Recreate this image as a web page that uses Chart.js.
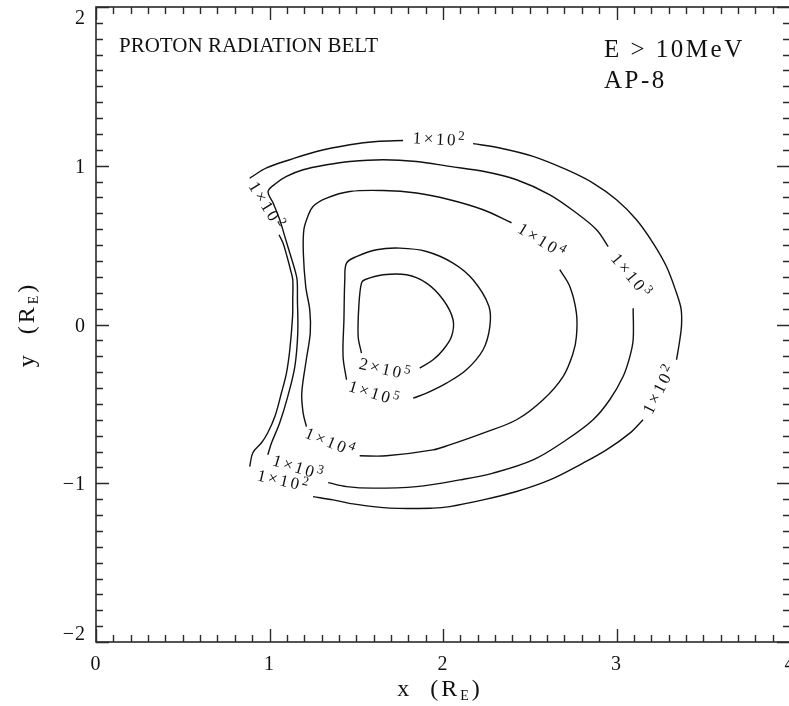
<!DOCTYPE html>
<html>
<head>
<meta charset="utf-8">
<title>Proton radiation belt</title>
<script src="https://cdn.jsdelivr.net/npm/chart.js@4.4.0/dist/chart.umd.min.js"></script>
<style>
  html, body { margin: 0; padding: 0; background: #fff; overflow: hidden; }
  canvas { display: block; }
</style>
</head>
<body>
<canvas id="beltChart" width="800" height="706"></canvas>
<script>
// Flux contour levels (protons/cm^2/s, E > 10 MeV)
const levelMantissa = [1, 1, 1, 1, 2];
const levelExponent = [2, 3, 4, 5, 5];

// Contour traces in Earth radii, one array of segments per level.
// Segments break where the level labels sit.
const level1e2 = [
  [[0.886, -0.895], [0.904, -0.808], [0.954, -0.745], [0.990, -0.682], [1.031, -0.580], [1.069, -0.430],
   [1.098, -0.304], [1.117, -0.159], [1.133, 0.050], [1.134, 0.156], [1.134, 0.282], [1.121, 0.345],
   [1.101, 0.428], [1.078, 0.513], [1.055, 0.565]],
  [[0.886, 0.922], [0.983, 0.986], [1.117, 1.038], [1.271, 1.090], [1.463, 1.132], [1.617, 1.153], [1.770, 1.159]],
  [[2.173, 1.139], [2.327, 1.112], [2.519, 1.059], [2.712, 0.975], [2.865, 0.891], [3.000, 0.786], [3.115, 0.660],
   [3.211, 0.513], [3.288, 0.365], [3.346, 0.198], [3.372, 0.100], [3.375, 0.000], [3.365, -0.096], [3.346, -0.222]],
  [[3.153, -0.600], [3.077, -0.684], [2.942, -0.790], [2.807, -0.873], [2.616, -0.979], [2.424, -1.052],
   [2.231, -1.105], [2.039, -1.147], [1.943, -1.157], [1.693, -1.157], [1.482, -1.130], [1.367, -1.105], [1.251, -1.084]]
];
const level1e3 = [
  [[0.990, -0.821], [1.012, -0.745], [1.059, -0.619], [1.105, -0.454], [1.146, -0.265], [1.163, -0.052],
   [1.161, 0.156], [1.159, 0.282], [1.146, 0.345], [1.117, 0.450], [1.088, 0.555], [1.059, 0.660],
   [1.021, 0.765], [0.992, 0.838], [1.040, 0.891], [1.098, 0.933], [1.194, 0.975], [1.329, 1.006],
   [1.463, 1.027], [1.655, 1.038], [1.847, 1.027], [2.039, 0.996], [2.231, 0.965], [2.424, 0.912],
   [2.616, 0.817], [2.769, 0.702], [2.885, 0.597], [2.952, 0.491]],
  [[3.096, 0.103], [3.096, -0.096], [3.077, -0.202], [3.038, -0.328], [2.961, -0.474], [2.865, -0.600],
   [2.712, -0.726], [2.519, -0.853], [2.289, -0.936], [2.097, -0.979], [1.847, -1.021], [1.597, -1.031],
   [1.444, -1.021], [1.338, -0.996]]
];
const level1e4 = [
  [[1.213, -0.643], [1.194, -0.558], [1.186, -0.432], [1.212, -0.222], [1.235, -0.052], [1.232, 0.092],
   [1.209, 0.237], [1.195, 0.450], [1.198, 0.597], [1.221, 0.681], [1.251, 0.744], [1.329, 0.796],
   [1.463, 0.838], [1.655, 0.844], [1.847, 0.828], [2.039, 0.786], [2.231, 0.723], [2.395, 0.641]],
  [[2.673, 0.345], [2.731, 0.239], [2.769, 0.072], [2.769, -0.076], [2.750, -0.180], [2.692, -0.328],
   [2.577, -0.474], [2.424, -0.600], [2.231, -0.684], [2.039, -0.758], [1.943, -0.790], [1.674, -0.827], [1.520, -0.827]]
];
const level1e5 = [
  [[1.828, -0.464], [1.905, -0.432], [2.020, -0.369], [2.135, -0.285], [2.231, -0.159], [2.270, -0.013],
   [2.264, 0.117], [2.173, 0.282], [2.058, 0.387], [1.905, 0.460], [1.751, 0.481], [1.617, 0.471],
   [1.501, 0.428], [1.444, 0.387], [1.434, 0.282], [1.429, 0.030], [1.424, -0.202], [1.444, -0.348]]
];
const level2e5 = [
  [[1.866, -0.275], [1.943, -0.222], [2.001, -0.159], [2.049, -0.076], [2.058, 0.030], [2.001, 0.156],
   [1.905, 0.261], [1.790, 0.313], [1.655, 0.313], [1.549, 0.282], [1.530, 0.261], [1.516, 0.135],
   [1.511, -0.076], [1.530, -0.180]]
];
const contourLevels = [level1e2, level1e3, level1e4, level1e5, level2e5];

// Level labels: which level, where (R_E) and the text angle in degrees
const labelLevel = [0, 0, 0, 0, 1, 1, 2, 2, 3, 4];
const labelX = [1.982, 0.983, 3.250, 1.082, 3.086, 1.169, 2.572, 1.353, 1.607, 1.670];
const labelY = [1.164, 0.744, -0.405, -0.988, 0.302, -0.905, 0.523, -0.745, -0.437, -0.285];
const labelAngle = [3, 58, -63, 13, 50, 17, 31, 22, 17, 13];

// Axes
const xMin = 0, xMax = 4, yMin = -2, yMax = 2;
const minorStep = 0.1;
const xTickValues = [0, 1, 2, 3, 4];
const xTickLabels = ['0', '1', '2', '3', '4'];
const yTickValues = [-2, -1, 0, 1, 2];
const yTickLabels = ['\u22122', '\u22121', '0', '1', '2'];

const SERIF = '"Liberation Serif", "Times New Roman", serif';
const INK = '#111';

function partsWidth(ctx, parts) {
  let w = 0;
  parts.forEach(p => {
    ctx.font = p.size + 'px ' + SERIF;
    w += ctx.measureText(p.t).width;
  });
  return w;
}

// draws a run of text pieces (for sub/superscripts) starting at x
function drawParts(ctx, parts, x, y) {
  parts.forEach(p => {
    ctx.font = p.size + 'px ' + SERIF;
    ctx.fillText(p.t, x, y + (p.dy || 0));
    x += ctx.measureText(p.t).width;
  });
}

const frameAndTicks = {
  id: 'frameAndTicks',
  afterDatasetsDraw(chart) {
    const { ctx, chartArea: a, scales: { x, y } } = chart;
    ctx.save();
    ctx.strokeStyle = '#2a2a2a';
    ctx.lineWidth = 1.6;
    ctx.strokeRect(a.left, a.top, a.right - a.left, a.bottom - a.top);

    ctx.lineWidth = 1.4;
    ctx.beginPath();
    const nx = Math.round((xMax - xMin) / minorStep);
    for (let i = 0; i <= nx; i++) {
      const v = xMin + i * minorStep;
      const px = Math.round(x.getPixelForValue(v)) + 0.5;
      const len = i % 10 === 0 ? 13 : 7;
      ctx.moveTo(px, a.bottom); ctx.lineTo(px, a.bottom - len);
      ctx.moveTo(px, a.top); ctx.lineTo(px, a.top + len);
    }
    const ny = Math.round((yMax - yMin) / minorStep);
    for (let i = 0; i <= ny; i++) {
      const v = yMin + i * minorStep;
      const py = Math.round(y.getPixelForValue(v)) + 0.5;
      const len = i % 10 === 0 ? 13 : 7;
      ctx.moveTo(a.left, py); ctx.lineTo(a.left + len, py);
      ctx.moveTo(a.right, py); ctx.lineTo(a.right - len, py);
    }
    ctx.stroke();

    // tick labels
    ctx.fillStyle = INK;
    ctx.font = '20px ' + SERIF;
    ctx.letterSpacing = '1px';
    ctx.textAlign = 'center';
    ctx.textBaseline = 'alphabetic';
    xTickValues.forEach((v, i) => {
      ctx.fillText(xTickLabels[i], x.getPixelForValue(v), a.bottom + 28);
    });
    ctx.textAlign = 'right';
    yTickValues.forEach((v, i) => {
      const py = Math.min(Math.max(y.getPixelForValue(v), a.top + 10), a.bottom - 9);
      ctx.fillText(yTickLabels[i], a.left - 10, py + 7);
    });

    // axis titles
    ctx.textAlign = 'left';
    ctx.letterSpacing = '3px';
    const xTitle = [{ t: 'x  (R', size: 24 }, { t: 'E', size: 14, dy: 4 }, { t: ')', size: 24 }];
    const xw = partsWidth(ctx, xTitle);
    drawParts(ctx, xTitle, (a.left + a.right) / 2 - xw / 2 - 3, a.bottom + 54);

    const yTitle = [{ t: 'y  (R', size: 24 }, { t: 'E', size: 14, dy: 4 }, { t: ')', size: 24 }];
    const yw = partsWidth(ctx, yTitle);
    ctx.save();
    ctx.translate(a.left - 62, (a.top + a.bottom) / 2);
    ctx.rotate(-Math.PI / 2);
    drawParts(ctx, yTitle, -yw / 2, 0);
    ctx.restore();

    // plot annotations
    ctx.font = '21px ' + SERIF;
    ctx.letterSpacing = '0px';
    ctx.fillText('PROTON RADIATION BELT', a.left + 23, a.top + 45);
    ctx.font = '25px ' + SERIF;
    ctx.letterSpacing = '2.5px';
    ctx.fillText('E > 10MeV', 604, a.top + 50);
    ctx.fillText('AP-8', 604, a.top + 81);
    ctx.restore();
  }
};

const contourLabels = {
  id: 'contourLabels',
  afterDatasetsDraw(chart) {
    const { ctx, scales: { x, y } } = chart;
    ctx.save();
    ctx.fillStyle = INK;
    ctx.textAlign = 'left';
    ctx.textBaseline = 'alphabetic';
    ctx.letterSpacing = '2.5px';
    labelLevel.forEach((lv, i) => {
      const parts = [
        { t: levelMantissa[lv] + '\u00d710', size: 17 },
        { t: String(levelExponent[lv]), size: 13, dy: -6 }
      ];
      const w = partsWidth(ctx, parts);
      ctx.save();
      ctx.translate(x.getPixelForValue(labelX[i]), y.getPixelForValue(labelY[i]));
      ctx.rotate(labelAngle[i] * Math.PI / 180);
      drawParts(ctx, parts, -w / 2, 5);
      ctx.restore();
    });
    ctx.restore();
  }
};

const datasets = [];
contourLevels.forEach((segments, lv) => {
  segments.forEach(seg => {
    datasets.push({
      label: levelMantissa[lv] + 'e' + levelExponent[lv],
      data: seg.map(p => ({ x: p[0], y: p[1] })),
      showLine: true,
      borderColor: INK,
      borderWidth: 1.4,
      pointRadius: 0,
      tension: 0.35,
      fill: false
    });
  });
});

const ctx = document.getElementById('beltChart').getContext('2d');
new Chart(ctx, {
  type: 'scatter',
  data: { datasets },
  options: {
    responsive: false,
    animation: false,
    events: [],
    layout: { padding: { left: 96, right: 10, top: 7, bottom: 64 } },
    plugins: {
      legend: { display: false },
      tooltip: { enabled: false }
    },
    scales: {
      x: { type: 'linear', min: xMin, max: xMax, display: false },
      y: { type: 'linear', min: yMin, max: yMax, display: false }
    }
  },
  plugins: [frameAndTicks, contourLabels]
});
</script>
</body>
</html>
